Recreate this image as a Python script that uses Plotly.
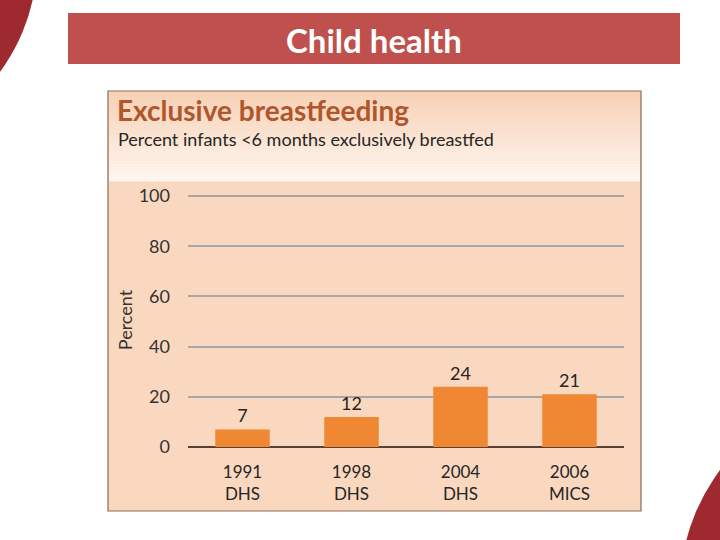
import plotly.graph_objects as go

categories = ["1991<br>DHS", "1998<br>DHS", "2004<br>DHS", "2006<br>MICS"]
values = [7, 12, 24, 21]
y_ticks = [0, 20, 40, 60, 80, 100]

W, H = 720, 540
L, R, B = 188, 624, 447
UNIT = 2.51            # pixels per percent
T = 193                # top of plot area
Y_MAX = (B - T) / UNIT


def px(x):
    return (x - L) / (R - L)


def py(y):
    return (B - y) / (B - T)


fig = go.Figure()
fig.add_trace(go.Bar(
    x=categories, y=values, text=[str(v) for v in values],
    textposition="outside", cliponaxis=False,
    textfont=dict(family="Lato", size=18, color="#262626"),
    marker=dict(color="#F08833", line=dict(width=0)),
    width=0.5,
))

shapes = []
shapes.append(dict(type="circle", xref="paper", yref="paper", layer="below",
                   x0=px(-150 - 187), x1=px(-150 + 187), y0=py(-40 + 187), y1=py(-40 - 187),
                   fillcolor="#9E2A2F", line=dict(width=0)))
shapes.append(dict(type="circle", xref="paper", yref="paper", layer="below",
                   x0=px(880 - 200), x1=px(880 + 200), y0=py(590 + 200), y1=py(590 - 200),
                   fillcolor="#9E2A2F", line=dict(width=0)))
shapes.append(dict(type="rect", xref="paper", yref="paper", layer="below",
                   x0=px(68), x1=px(680), y0=py(64), y1=py(13),
                   fillcolor="#C0504D", line=dict(width=0)))
shapes.append(dict(type="rect", xref="paper", yref="paper", layer="below",
                   x0=px(108), x1=px(641), y0=py(511), y1=py(91),
                   fillcolor="#FAD8BF", line=dict(color="#8C6A55", width=1.2)))
n = 30
top_c = (247, 210, 182)
bot_c = (254, 246, 240)
y_top, y_bot = 92, 181
for i in range(n):
    t = i / (n - 1)
    c = tuple(int(round(top_c[k] + (bot_c[k] - top_c[k]) * t)) for k in range(3))
    ya = y_top + (y_bot - y_top) * i / n
    yb = y_top + (y_bot - y_top) * (i + 1) / n
    shapes.append(dict(type="rect", xref="paper", yref="paper", layer="below",
                       x0=px(109), x1=px(640), y0=py(yb + 0.3), y1=py(ya),
                       fillcolor="rgb(%d,%d,%d)" % c, line=dict(width=0)))

annotations = [
    dict(text="<b>Child health</b>", xref="paper", yref="paper", x=px(374), y=py(40),
         showarrow=False, font=dict(family="Lato", size=33, color="white"),
         xanchor="center", yanchor="middle"),
    dict(text="<b>Exclusive breastfeeding</b>", xref="paper", yref="paper", x=px(115), y=py(110),
         showarrow=False, font=dict(family="Lato", size=28, color="#B0552C"),
         xanchor="left", yanchor="middle"),
    dict(text="Percent infants &lt;6 months exclusively breastfed", xref="paper", yref="paper",
         x=px(116), y=py(139), showarrow=False,
         font=dict(family="Lato", size=18, color="#262626"),
         xanchor="left", yanchor="middle"),
]

fig.update_layout(
    width=W, height=H,
    margin=dict(l=L, r=W - R, t=T, b=H - B, pad=0),
    paper_bgcolor="white", plot_bgcolor="rgba(0,0,0,0)",
    showlegend=False, shapes=shapes, annotations=annotations,
)
fig.update_yaxes(
    range=[0, Y_MAX], tickvals=y_ticks, showgrid=True, gridcolor="#A6A6A6", gridwidth=2,
    zeroline=True, zerolinecolor="#5A4030", zerolinewidth=1.5,
    ticks="", ticklabelstandoff=17,
    tickfont=dict(family="Lato", size=18, color="#333333"),
    title=dict(text="Percent", font=dict(family="Lato", size=18, color="#333333"), standoff=1),
    showline=False,
)
fig.update_xaxes(
    range=[-0.5, 3.5], ticks="", showline=False, showgrid=False,
    tickfont=dict(family="Lato", size=17, color="#262626"),
    ticklabelstandoff=13,
)

fig.write_html("out.html", config={"displayModeBar": False},
               post_script="document.body.style.margin='0';document.body.style.overflow='hidden';")
